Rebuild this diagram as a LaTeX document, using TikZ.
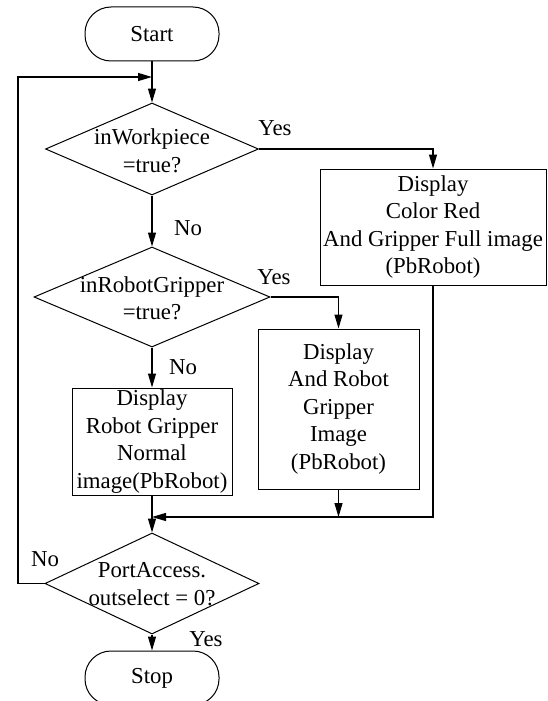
\documentclass[tikz,border=0pt]{standalone}
\usepackage{fontspec}
\setmainfont{Liberation Serif}
\usetikzlibrary{shapes.geometric,arrows.meta}
\begin{document}
\begin{tikzpicture}[x=1pt,y=-1pt,
  every node/.style={font=\fontsize{22.8}{27.5}\selectfont, inner sep=0pt},
  terminal/.style={draw, line width=1pt, rounded corners=26pt, minimum width=134pt, minimum height=54pt},
  procbox/.style={draw, line width=1pt, align=center},
  decision/.style={draw, line width=1pt, diamond, inner sep=0pt},
  caption/.style={align=center},
  flow/.style={line width=1.1pt, -{Triangle[length=14pt,width=8pt]}},
  link/.style={line width=1.1pt}]
  \clip (0,0) rectangle (547,701);
  \fill[white] (0,0) rectangle (547,701);

  % terminals
  \node[terminal] (start) at (152,34) {Start};
  \node[terminal] (stop) at (152,678) {Stop};

  % decisions (shape and its text kept apart so the text may touch the edges)
  \node[decision, minimum width=213pt, minimum height=92pt] (d1) at (152,149) {};
  \node[caption] (d1t) at (152,151) {inWorkpiece\\=true?};
  \node[decision, minimum width=236pt, minimum height=100pt] (d2) at (152,297) {};
  \node[caption] (d2t) at (152,298) {inRobotGripper\\=true?};
  \node[decision, minimum width=214pt, minimum height=101pt] (d3) at (152,583.5) {};
  \node[caption] (d3t) at (152,584) {PortAccess.\\outselect = 0?};

  % process boxes
  \node[procbox, minimum width=226pt, minimum height=116pt] (b1) at (433,227)
    {Display\\Color Red\\And Gripper Full image\\(PbRobot)};
  \node[procbox, minimum width=161pt, minimum height=160pt] (b2) at (338.5,409)
    {Display\\And Robot\\Gripper\\Image\\(PbRobot)};
  \node[procbox, minimum width=160pt, minimum height=107pt] (b3) at (152,441.5)
    {Display\\Robot Gripper\\Normal\\image(PbRobot)};

  % junction points
  \coordinate (entry) at (152,77);
  \coordinate (merge) at (152,517);
  \coordinate (ret) at (18,583.5);

  % connectors
  \draw[flow] (start.south) -- (d1.north);
  \draw[flow] (d1.south) -- (d2.north);
  \draw[flow] (d2.south) -- (b3.north);
  \draw[link] (b3.south) -- (merge);
  \draw[flow] (merge) -- (d3.north);
  \draw[flow] (d3.south) -- (stop.north);
  \draw[flow] (d1.east) -| (b1.north);
  \draw[flow] (d2.east) -| (b2.north);
  \draw[flow] (b2.south) -- (b2.south |- merge);
  \draw[flow] (b1.south) |- (merge);
  \draw[flow] (d3.west) -- (ret) |- (entry);

  % branch labels
  \node (yes1) at (275,128) {Yes};
  \node (no1) at (188,228) {No};
  \node (yes2) at (274,277) {Yes};
  \node (no2) at (183,367) {No};
  \node (no3) at (45,559) {No};
  \node (yes3) at (206,639) {Yes};
\end{tikzpicture}
\end{document}
